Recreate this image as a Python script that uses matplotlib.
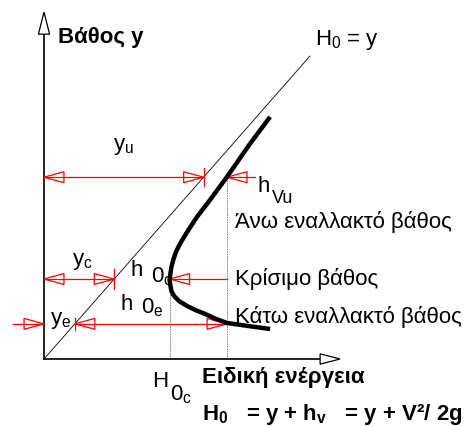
import matplotlib
matplotlib.use('Agg')
import matplotlib.pyplot as plt
from matplotlib.patches import Polygon

plt.rcParams['font.family'] = ['Liberation Sans', 'DejaVu Sans']
plt.rcParams['mathtext.fontset'] = 'custom'
plt.rcParams['mathtext.rm'] = 'Liberation Sans'
plt.rcParams['mathtext.it'] = 'Liberation Sans'
plt.rcParams['mathtext.bf'] = 'Liberation Sans:bold'
plt.rcParams['mathtext.default'] = 'regular'

# ---- data (specific energy E vs depth y, arbitrary units) ----
curve_E = [8.50, 7.74, 6.88, 6.13, 5.75, 5.38, 5.11, 4.96, 4.87, 4.79, 4.74, 4.72,
           4.74, 4.79, 4.89, 5.08, 5.38, 5.68, 6.05, 6.47, 6.88, 7.26, 7.67, 8.50]
curve_y = [7.99, 7.10, 6.01, 5.12, 4.69, 4.19, 3.80, 3.53, 3.30, 3.04, 2.74, 2.61,
           2.48, 2.24, 2.08, 1.91, 1.75, 1.62, 1.49, 1.32, 1.19, 1.14, 1.09, 0.99]
diag_E = [0, 10]
diag_y = [0, 10]
y_u, y_c, y_e = 6.0, 2.64, 1.16
E_c, E_alt = 4.72, 6.88
hv_tail = 7.93
ye_tail = -1.17
x_axis_max, y_axis_max = 11.13, 11.45

fig = plt.figure(figsize=(4.69, 4.27), dpi=100)
ax = fig.add_axes([0, 0, 1, 1])
ax.set_xlim(-1.654, 15.977)
ax.set_ylim(-2.211, 11.881)
ax.axis('off')

RED = '#ff0000'
HL, HW = 0.75, 0.18


def head(xtip, y, direction):
    base = xtip - direction * HL
    ax.add_patch(Polygon([(xtip, y), (base, y + HW), (base, y - HW)], closed=True,
                         fill=False, ec=RED, lw=0.9, zorder=4))


def hline(x0, x1, y):
    ax.plot([x0, x1], [y, y], color=RED, lw=0.9, zorder=3)


def tick(x, y, h):
    ax.plot([x, x], [y - h, y + h], color=RED, lw=0.9, zorder=3)

# axes with open arrow heads
ax.plot([0, 0], [0, y_axis_max - 0.73], color='black', lw=1.2, zorder=2)
ax.plot([0, x_axis_max - 0.75], [0, 0], color='black', lw=1.2, zorder=2)
ax.add_patch(Polygon([(0, y_axis_max), (-0.21, y_axis_max - 0.73), (0.21, y_axis_max - 0.73)],
                     closed=True, fc='white', ec='black', lw=0.9, zorder=5))
ax.add_patch(Polygon([(x_axis_max, 0), (x_axis_max - 0.75, 0.17), (x_axis_max - 0.75, -0.17)],
                     closed=True, fc='white', ec='black', lw=0.9, zorder=5))

# H0 = y line
ax.plot(diag_E, diag_y, color='black', lw=0.6, zorder=2)

# dotted verticals
ax.plot([E_c, E_c], [0, y_c], color='#808080', lw=0.7, ls=(0, (1.5, 1)), zorder=1)
ax.plot([E_alt, E_alt], [0, y_u], color='#808080', lw=0.7, ls=(0, (1.5, 1)), zorder=1)

# specific energy curve
ax.plot(curve_E, curve_y, color='black', lw=3.2, solid_joinstyle='round',
        solid_capstyle='butt', zorder=6)

# y_u
hline(0, y_u, y_u); head(0, y_u, -1); head(y_u, y_u, 1); tick(y_u, y_u, 0.3)
hline(E_alt, hv_tail, y_u); head(E_alt, y_u, -1)
# y_c
hline(0, y_c, y_c); head(0, y_c, -1); head(y_c, y_c, 1); tick(y_c, y_c, 0.33)
hline(E_c, E_alt, y_c); head(E_c, y_c, -1)
# y_e
hline(ye_tail, 0, y_e); head(0, y_e, 1)
hline(y_e, E_alt, y_e); head(y_e, y_e, -1); head(E_alt, y_e, 1); tick(y_e, y_e, 0.2)

FS = 16
ax.text(0.53, 10.46, 'Βάθος y', fontsize=FS, fontweight='bold', va='baseline')
ax.text(10.19, 10.40, 'H$_0$ = y', fontsize=FS, va='baseline')
ax.text(2.59, 6.93, 'y$_u$', fontsize=FS, va='baseline')
ax.text(8.01, 5.54, 'h', fontsize=FS, va='baseline')
ax.text(8.55, 5.18, 'Vu', fontsize=13, va='baseline')
ax.text(7.18, 4.36, 'Άνω εναλλακτό βάθος', fontsize=FS, va='baseline')
ax.text(7.18, 2.48, 'Κρίσιμο βάθος', fontsize=FS, va='baseline')
ax.text(7.18, 1.22, 'Κάτω εναλλακτό βάθος', fontsize=FS, va='baseline')
ax.text(1.05, 3.14, 'y$_c$', fontsize=FS, va='baseline')
ax.text(0.23, 1.19, 'y$_e$', fontsize=FS, va='baseline')
ax.text(3.27, 2.77, 'h', fontsize=FS, va='baseline')
ax.text(4.02, 2.57, '0$_c$', fontsize=FS, va='baseline')
ax.text(2.89, 1.65, 'h', fontsize=FS, va='baseline')
ax.text(3.65, 1.55, '0$_e$', fontsize=FS, va='baseline')
ax.text(4.06, -0.89, 'H', fontsize=FS, va='baseline')
ax.text(4.74, -1.32, '0$_c$', fontsize=FS, va='baseline')
ax.text(5.94, -0.76, 'Ειδική ενέργεια', fontsize=FS, fontweight='bold', va='baseline')
ax.text(5.94, -1.98, 'H$_0$   = y + h$_v$   = y + V²/ 2g', fontsize=FS,
        fontweight='bold', va='baseline')

fig.savefig('out.png', dpi=100)
